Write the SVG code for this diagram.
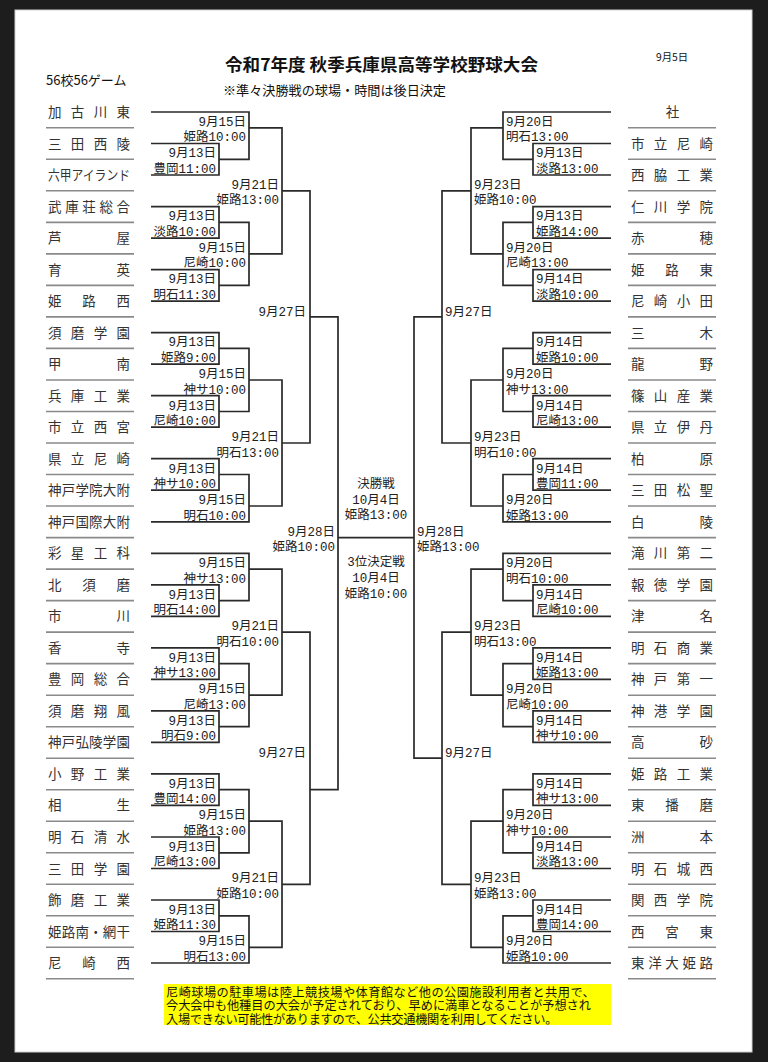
<svg xmlns="http://www.w3.org/2000/svg" width="768" height="1062" viewBox="0 0 768 1062">
<style>
.tm{font-family:"Noto Sans CJK JP","Noto Sans CJK SC",sans-serif;font-size:13.5px;fill:#333}
.sep{stroke:#8a8a8a;stroke-width:1.6}
.lb{font-family:"Liberation Mono","Noto Sans CJK JP",monospace;font-size:12.5px;fill:#222}
.L{text-anchor:end}
.R{text-anchor:start}
.C{text-anchor:middle}
.cn{fill:none;stroke:#2a2a2a;stroke-width:1.7}
.hd{font-family:"Noto Sans CJK JP",sans-serif;fill:#111}
.nt{font-family:"Noto Sans CJK JP",sans-serif;fill:#111;font-size:12.2px}
</style>
<rect x="0" y="0" width="768" height="1062" fill="#1d1d1d"/>
<rect x="15" y="10" width="737" height="1042" fill="#fff" stroke="#d0d0d0" stroke-width="1"/>

<g id="header">
<text class="hd" x="381.5" y="71" font-size="16.5" font-weight="bold" text-anchor="middle" textLength="313" lengthAdjust="spacingAndGlyphs">令和7年度 秋季兵庫県高等学校野球大会</text>
<text class="hd" x="223" y="95" font-size="13" textLength="223" lengthAdjust="spacingAndGlyphs">※準々決勝戦の球場・時間は後日決定</text>
<text class="hd" x="46" y="85" font-size="13" fill="#333">56校56ゲーム</text>
<text class="hd" x="656" y="61" font-size="10.3">9月5日</text>
</g>

<g id="teams-left">
<g id="tL1"><text class="tm" x="48" y="117" textLength="82" lengthAdjust="spacing">加古川東</text><line class="sep" x1="46" x2="134" y1="127.8" y2="127.8"/></g>
<g id="tL2"><text class="tm" x="48" y="148.5" textLength="82" lengthAdjust="spacing">三田西陵</text><line class="sep" x1="46" x2="134" y1="159.3" y2="159.3"/></g>
<g id="tL3"><text class="tm" x="48" y="180" textLength="82" lengthAdjust="spacingAndGlyphs">六甲アイランド</text><line class="sep" x1="46" x2="134" y1="190.8" y2="190.8"/></g>
<g id="tL4"><text class="tm" x="48" y="211.6" textLength="82" lengthAdjust="spacing">武庫荘総合</text><line class="sep" x1="46" x2="134" y1="222.4" y2="222.4"/></g>
<g id="tL5"><text class="tm" x="48" y="243.1" textLength="82" lengthAdjust="spacing">芦屋</text><line class="sep" x1="46" x2="134" y1="253.9" y2="253.9"/></g>
<g id="tL6"><text class="tm" x="48" y="274.6" textLength="82" lengthAdjust="spacing">育英</text><line class="sep" x1="46" x2="134" y1="285.4" y2="285.4"/></g>
<g id="tL7"><text class="tm" x="48" y="306.1" textLength="82" lengthAdjust="spacing">姫路西</text><line class="sep" x1="46" x2="134" y1="316.9" y2="316.9"/></g>
<g id="tL8"><text class="tm" x="48" y="337.6" textLength="82" lengthAdjust="spacing">須磨学園</text><line class="sep" x1="46" x2="134" y1="348.4" y2="348.4"/></g>
<g id="tL9"><text class="tm" x="48" y="369.2" textLength="82" lengthAdjust="spacing">甲南</text><line class="sep" x1="46" x2="134" y1="380" y2="380"/></g>
<g id="tL10"><text class="tm" x="48" y="400.7" textLength="82" lengthAdjust="spacing">兵庫工業</text><line class="sep" x1="46" x2="134" y1="411.5" y2="411.5"/></g>
<g id="tL11"><text class="tm" x="48" y="432.2" textLength="82" lengthAdjust="spacing">市立西宮</text><line class="sep" x1="46" x2="134" y1="443" y2="443"/></g>
<g id="tL12"><text class="tm" x="48" y="463.7" textLength="82" lengthAdjust="spacing">県立尼崎</text><line class="sep" x1="46" x2="134" y1="474.5" y2="474.5"/></g>
<g id="tL13"><text class="tm" x="48" y="495.2" textLength="82" lengthAdjust="spacing">神戸学院大附</text><line class="sep" x1="46" x2="134" y1="506" y2="506"/></g>
<g id="tL14"><text class="tm" x="48" y="526.8" textLength="82" lengthAdjust="spacing">神戸国際大附</text><line class="sep" x1="46" x2="134" y1="537.6" y2="537.6"/></g>
<g id="tL15"><text class="tm" x="48" y="558.3" textLength="82" lengthAdjust="spacing">彩星工科</text><line class="sep" x1="46" x2="134" y1="569.1" y2="569.1"/></g>
<g id="tL16"><text class="tm" x="48" y="589.8" textLength="82" lengthAdjust="spacing">北須磨</text><line class="sep" x1="46" x2="134" y1="600.6" y2="600.6"/></g>
<g id="tL17"><text class="tm" x="48" y="621.3" textLength="82" lengthAdjust="spacing">市川</text><line class="sep" x1="46" x2="134" y1="632.1" y2="632.1"/></g>
<g id="tL18"><text class="tm" x="48" y="652.8" textLength="82" lengthAdjust="spacing">香寺</text><line class="sep" x1="46" x2="134" y1="663.6" y2="663.6"/></g>
<g id="tL19"><text class="tm" x="48" y="684.4" textLength="82" lengthAdjust="spacing">豊岡総合</text><line class="sep" x1="46" x2="134" y1="695.2" y2="695.2"/></g>
<g id="tL20"><text class="tm" x="48" y="715.9" textLength="82" lengthAdjust="spacing">須磨翔風</text><line class="sep" x1="46" x2="134" y1="726.7" y2="726.7"/></g>
<g id="tL21"><text class="tm" x="48" y="747.4" textLength="82" lengthAdjust="spacing">神戸弘陵学園</text><line class="sep" x1="46" x2="134" y1="758.2" y2="758.2"/></g>
<g id="tL22"><text class="tm" x="48" y="778.9" textLength="82" lengthAdjust="spacing">小野工業</text><line class="sep" x1="46" x2="134" y1="789.7" y2="789.7"/></g>
<g id="tL23"><text class="tm" x="48" y="810.4" textLength="82" lengthAdjust="spacing">相生</text><line class="sep" x1="46" x2="134" y1="821.2" y2="821.2"/></g>
<g id="tL24"><text class="tm" x="48" y="842" textLength="82" lengthAdjust="spacing">明石清水</text><line class="sep" x1="46" x2="134" y1="852.8" y2="852.8"/></g>
<g id="tL25"><text class="tm" x="48" y="873.5" textLength="82" lengthAdjust="spacing">三田学園</text><line class="sep" x1="46" x2="134" y1="884.3" y2="884.3"/></g>
<g id="tL26"><text class="tm" x="48" y="905" textLength="82" lengthAdjust="spacing">飾磨工業</text><line class="sep" x1="46" x2="134" y1="915.8" y2="915.8"/></g>
<g id="tL27"><text class="tm" x="48" y="936.5" textLength="82" lengthAdjust="spacing">姫路南・網干</text><line class="sep" x1="46" x2="134" y1="947.3" y2="947.3"/></g>
<g id="tL28"><text class="tm" x="48" y="968" textLength="82" lengthAdjust="spacing">尼崎西</text><line class="sep" x1="46" x2="134" y1="978.8" y2="978.8"/></g>
</g>

<g id="teams-right">
<g id="tR1"><text class="tm" x="672.5" y="117" text-anchor="middle">社</text><line class="sep" x1="628" x2="716" y1="127.8" y2="127.8"/></g>
<g id="tR2"><text class="tm" x="631" y="148.5" textLength="82" lengthAdjust="spacing">市立尼崎</text><line class="sep" x1="628" x2="716" y1="159.3" y2="159.3"/></g>
<g id="tR3"><text class="tm" x="631" y="180" textLength="82" lengthAdjust="spacing">西脇工業</text><line class="sep" x1="628" x2="716" y1="190.8" y2="190.8"/></g>
<g id="tR4"><text class="tm" x="631" y="211.6" textLength="82" lengthAdjust="spacing">仁川学院</text><line class="sep" x1="628" x2="716" y1="222.4" y2="222.4"/></g>
<g id="tR5"><text class="tm" x="631" y="243.1" textLength="82" lengthAdjust="spacing">赤穂</text><line class="sep" x1="628" x2="716" y1="253.9" y2="253.9"/></g>
<g id="tR6"><text class="tm" x="631" y="274.6" textLength="82" lengthAdjust="spacing">姫路東</text><line class="sep" x1="628" x2="716" y1="285.4" y2="285.4"/></g>
<g id="tR7"><text class="tm" x="631" y="306.1" textLength="82" lengthAdjust="spacing">尼崎小田</text><line class="sep" x1="628" x2="716" y1="316.9" y2="316.9"/></g>
<g id="tR8"><text class="tm" x="631" y="337.6" textLength="82" lengthAdjust="spacing">三木</text><line class="sep" x1="628" x2="716" y1="348.4" y2="348.4"/></g>
<g id="tR9"><text class="tm" x="631" y="369.2" textLength="82" lengthAdjust="spacing">龍野</text><line class="sep" x1="628" x2="716" y1="380" y2="380"/></g>
<g id="tR10"><text class="tm" x="631" y="400.7" textLength="82" lengthAdjust="spacing">篠山産業</text><line class="sep" x1="628" x2="716" y1="411.5" y2="411.5"/></g>
<g id="tR11"><text class="tm" x="631" y="432.2" textLength="82" lengthAdjust="spacing">県立伊丹</text><line class="sep" x1="628" x2="716" y1="443" y2="443"/></g>
<g id="tR12"><text class="tm" x="631" y="463.7" textLength="82" lengthAdjust="spacing">柏原</text><line class="sep" x1="628" x2="716" y1="474.5" y2="474.5"/></g>
<g id="tR13"><text class="tm" x="631" y="495.2" textLength="82" lengthAdjust="spacing">三田松聖</text><line class="sep" x1="628" x2="716" y1="506" y2="506"/></g>
<g id="tR14"><text class="tm" x="631" y="526.8" textLength="82" lengthAdjust="spacing">白陵</text><line class="sep" x1="628" x2="716" y1="537.6" y2="537.6"/></g>
<g id="tR15"><text class="tm" x="631" y="558.3" textLength="82" lengthAdjust="spacing">滝川第二</text><line class="sep" x1="628" x2="716" y1="569.1" y2="569.1"/></g>
<g id="tR16"><text class="tm" x="631" y="589.8" textLength="82" lengthAdjust="spacing">報徳学園</text><line class="sep" x1="628" x2="716" y1="600.6" y2="600.6"/></g>
<g id="tR17"><text class="tm" x="631" y="621.3" textLength="82" lengthAdjust="spacing">津名</text><line class="sep" x1="628" x2="716" y1="632.1" y2="632.1"/></g>
<g id="tR18"><text class="tm" x="631" y="652.8" textLength="82" lengthAdjust="spacing">明石商業</text><line class="sep" x1="628" x2="716" y1="663.6" y2="663.6"/></g>
<g id="tR19"><text class="tm" x="631" y="684.4" textLength="82" lengthAdjust="spacing">神戸第一</text><line class="sep" x1="628" x2="716" y1="695.2" y2="695.2"/></g>
<g id="tR20"><text class="tm" x="631" y="715.9" textLength="82" lengthAdjust="spacing">神港学園</text><line class="sep" x1="628" x2="716" y1="726.7" y2="726.7"/></g>
<g id="tR21"><text class="tm" x="631" y="747.4" textLength="82" lengthAdjust="spacing">高砂</text><line class="sep" x1="628" x2="716" y1="758.2" y2="758.2"/></g>
<g id="tR22"><text class="tm" x="631" y="778.9" textLength="82" lengthAdjust="spacing">姫路工業</text><line class="sep" x1="628" x2="716" y1="789.7" y2="789.7"/></g>
<g id="tR23"><text class="tm" x="631" y="810.4" textLength="82" lengthAdjust="spacing">東播磨</text><line class="sep" x1="628" x2="716" y1="821.2" y2="821.2"/></g>
<g id="tR24"><text class="tm" x="631" y="842" textLength="82" lengthAdjust="spacing">洲本</text><line class="sep" x1="628" x2="716" y1="852.8" y2="852.8"/></g>
<g id="tR25"><text class="tm" x="631" y="873.5" textLength="82" lengthAdjust="spacing">明石城西</text><line class="sep" x1="628" x2="716" y1="884.3" y2="884.3"/></g>
<g id="tR26"><text class="tm" x="631" y="905" textLength="82" lengthAdjust="spacing">関西学院</text><line class="sep" x1="628" x2="716" y1="915.8" y2="915.8"/></g>
<g id="tR27"><text class="tm" x="631" y="936.5" textLength="82" lengthAdjust="spacing">西宮東</text><line class="sep" x1="628" x2="716" y1="947.3" y2="947.3"/></g>
<g id="tR28"><text class="tm" x="631" y="968" textLength="82" lengthAdjust="spacing">東洋大姫路</text><line class="sep" x1="628" x2="716" y1="978.8" y2="978.8"/></g>
</g>

<g id="connectors" class="cn">
<path d="M151 112H249V159.3H219M151 143.5H219V175H151M249 127.8H282V253.9H249M151 206.6H219V238.1H151M219 222.4H249V285.4H219M151 269.6H219V301.1H151"/>
<path d="M151 332.6H219V364.2H151M151 395.7H219V427.2H151M219 348.4H249V411.5H219M249 380H282V506H249M151 458.7H219V490.2H151M219 474.5H249V521.8H151M282 190.8H310V443H282"/>
<path d="M151 553.3H249V600.6H219M151 584.8H219V616.3H151M249 569.1H282V695.2H249M151 647.8H219V679.4H151M219 663.6H249V726.7H219M151 710.9H219V742.4H151"/>
<path d="M151 773.9H219V805.4H151M151 837H219V868.5H151M219 789.7H249V852.8H219M249 821.2H282V947.3H249M151 900H219V931.5H151M219 915.8H249V963H151M282 632.1H310V884.3H282"/>
<path d="M310 316.9H338V789.7H310M338 537.6H414M442 316.9H414V758.2H442"/>
<path d="M611 112H503V159.3H533M611 143.5H533V175H611M503 127.8H471V253.9H503M611 206.6H533V238.1H611M533 222.4H503V285.4H533M611 269.6H533V301.1H611"/>
<path d="M611 332.6H533V364.2H611M611 395.7H533V427.2H611M533 348.4H503V411.5H533M503 380H471V506H503M611 458.7H533V490.2H611M533 474.5H503V521.8H611M471 190.8H442V443H471"/>
<path d="M611 553.3H503V600.6H533M611 584.8H533V616.3H611M503 569.1H471V695.2H503M611 647.8H533V679.4H611M533 663.6H503V726.7H533M611 710.9H533V742.4H611"/>
<path d="M611 773.9H533V805.4H611M611 837H533V868.5H611M533 789.7H503V852.8H533M503 821.2H471V947.3H503M611 900H533V931.5H611M533 915.8H503V963H611M471 632.1H442V884.3H471"/>
</g>

<g id="matches-left" class="lb L">
<g id="mL-a1"><text x="216" y="157.3">9月13日</text><text x="216" y="172.8">豊岡11:00</text></g>
<g id="mL-a2"><text x="246" y="125.8">9月15日</text><text x="246" y="141.3">姫路10:00</text></g>
<g id="mL-a3"><text x="216" y="220.4">9月13日</text><text x="216" y="235.9">淡路10:00</text></g>
<g id="mL-a4"><text x="246" y="251.9">9月15日</text><text x="246" y="267.4">尼崎10:00</text></g>
<g id="mL-a5"><text x="216" y="283.4">9月13日</text><text x="216" y="298.9">明石11:30</text></g>
<g id="mL-a6"><text x="279" y="188.8">9月21日</text><text x="279" y="204.3">姫路13:00</text></g>
<g id="mL-s1"><text x="306" y="315.5">9月27日</text></g>
<g id="mL-b1"><text x="216" y="346.4">9月13日</text><text x="216" y="361.9">姫路9:00</text></g>
<g id="mL-b2"><text x="246" y="378">9月15日</text><text x="246" y="393.5">神サ10:00</text></g>
<g id="mL-b3"><text x="216" y="409.5">9月13日</text><text x="216" y="425">尼崎10:00</text></g>
<g id="mL-b4"><text x="279" y="441">9月21日</text><text x="279" y="456.5">明石13:00</text></g>
<g id="mL-b5"><text x="216" y="472.5">9月13日</text><text x="216" y="488">神サ10:00</text></g>
<g id="mL-b6"><text x="246" y="504">9月15日</text><text x="246" y="519.5">明石10:00</text></g>
<g id="mL-sf"><text x="335" y="535.6">9月28日</text><text x="335" y="551.1">姫路10:00</text></g>
<g id="mL-c1"><text x="246" y="567.1">9月15日</text><text x="246" y="582.6">神サ13:00</text></g>
<g id="mL-c2"><text x="216" y="598.6">9月13日</text><text x="216" y="614.1">明石14:00</text></g>
<g id="mL-c3"><text x="279" y="630.1">9月21日</text><text x="279" y="645.6">明石10:00</text></g>
<g id="mL-c4"><text x="216" y="661.6">9月13日</text><text x="216" y="677.1">神サ13:00</text></g>
<g id="mL-c5"><text x="246" y="693.2">9月15日</text><text x="246" y="708.7">尼崎13:00</text></g>
<g id="mL-c6"><text x="216" y="724.7">9月13日</text><text x="216" y="740.2">明石9:00</text></g>
<g id="mL-s2"><text x="306" y="756.5">9月27日</text></g>
<g id="mL-d1"><text x="216" y="787.7">9月13日</text><text x="216" y="803.2">豊岡14:00</text></g>
<g id="mL-d2"><text x="246" y="819.2">9月15日</text><text x="246" y="834.7">姫路13:00</text></g>
<g id="mL-d3"><text x="216" y="850.8">9月13日</text><text x="216" y="866.3">尼崎13:00</text></g>
<g id="mL-d4"><text x="279" y="882.3">9月21日</text><text x="279" y="897.8">姫路10:00</text></g>
<g id="mL-d5"><text x="216" y="913.8">9月13日</text><text x="216" y="929.3">姫路11:30</text></g>
<g id="mL-d6"><text x="246" y="945.3">9月15日</text><text x="246" y="960.8">明石13:00</text></g>
</g>

<g id="matches-right" class="lb R">
<g id="mR-e1"><text x="506" y="125.8">9月20日</text><text x="506" y="141.3">明石13:00</text></g>
<g id="mR-e2"><text x="536" y="157.3">9月13日</text><text x="536" y="172.8">淡路13:00</text></g>
<g id="mR-e3"><text x="474" y="188.8">9月23日</text><text x="474" y="204.3">姫路10:00</text></g>
<g id="mR-e4"><text x="536" y="220.4">9月13日</text><text x="536" y="235.9">姫路14:00</text></g>
<g id="mR-e5"><text x="506" y="251.9">9月20日</text><text x="506" y="267.4">尼崎13:00</text></g>
<g id="mR-e6"><text x="536" y="283.4">9月14日</text><text x="536" y="298.9">淡路10:00</text></g>
<g id="mR-s1"><text x="445" y="315.5">9月27日</text></g>
<g id="mR-f1"><text x="536" y="346.4">9月14日</text><text x="536" y="361.9">姫路10:00</text></g>
<g id="mR-f2"><text x="506" y="378">9月20日</text><text x="506" y="393.5">神サ13:00</text></g>
<g id="mR-f3"><text x="536" y="409.5">9月14日</text><text x="536" y="425">尼崎13:00</text></g>
<g id="mR-f4"><text x="474" y="441">9月23日</text><text x="474" y="456.5">明石10:00</text></g>
<g id="mR-f5"><text x="536" y="472.5">9月14日</text><text x="536" y="488">豊岡11:00</text></g>
<g id="mR-f6"><text x="506" y="504">9月20日</text><text x="506" y="519.5">姫路13:00</text></g>
<g id="mR-sf"><text x="417" y="535.6">9月28日</text><text x="417" y="551.1">姫路13:00</text></g>
<g id="mR-g1"><text x="506" y="567.1">9月20日</text><text x="506" y="582.6">明石10:00</text></g>
<g id="mR-g2"><text x="536" y="598.6">9月14日</text><text x="536" y="614.1">尼崎10:00</text></g>
<g id="mR-g3"><text x="474" y="630.1">9月23日</text><text x="474" y="645.6">明石13:00</text></g>
<g id="mR-g4"><text x="536" y="661.6">9月14日</text><text x="536" y="677.1">姫路13:00</text></g>
<g id="mR-g5"><text x="506" y="693.2">9月20日</text><text x="506" y="708.7">尼崎10:00</text></g>
<g id="mR-g6"><text x="536" y="724.7">9月14日</text><text x="536" y="740.2">神サ10:00</text></g>
<g id="mR-s2"><text x="445" y="756.5">9月27日</text></g>
<g id="mR-h1"><text x="536" y="787.7">9月14日</text><text x="536" y="803.2">神サ13:00</text></g>
<g id="mR-h2"><text x="506" y="819.2">9月20日</text><text x="506" y="834.7">神サ10:00</text></g>
<g id="mR-h3"><text x="536" y="850.8">9月14日</text><text x="536" y="866.3">淡路13:00</text></g>
<g id="mR-h4"><text x="474" y="882.3">9月23日</text><text x="474" y="897.8">姫路13:00</text></g>
<g id="mR-h5"><text x="536" y="913.8">9月14日</text><text x="536" y="929.3">豊岡14:00</text></g>
<g id="mR-h6"><text x="506" y="945.3">9月20日</text><text x="506" y="960.8">姫路10:00</text></g>
</g>

<g id="final" class="lb C">
<text x="376" y="488">決勝戦</text><text x="376" y="503.5">10月4日</text><text x="376" y="519">姫路13:00</text>
</g>
<g id="third-place" class="lb C">
<text x="376" y="566">3位決定戦</text><text x="376" y="582">10月4日</text><text x="376" y="598">姫路10:00</text>
</g>

<g id="note">
<rect x="164" y="984" width="447" height="41" fill="#ffff00"/>
<text class="nt"><tspan x="166" y="996.5" letter-spacing="0.45">尼崎球場の駐車場は陸上競技場や体育館など他の公園施設利用者と共用で、</tspan><tspan x="166" y="1010" letter-spacing="0">今大会中も他種目の大会が予定されており、早めに満車となることが予想され</tspan><tspan x="166" y="1023.5" letter-spacing="-0.3">入場できない可能性がありますので、公共交通機関を利用してください。</tspan></text>
</g>
</svg>
